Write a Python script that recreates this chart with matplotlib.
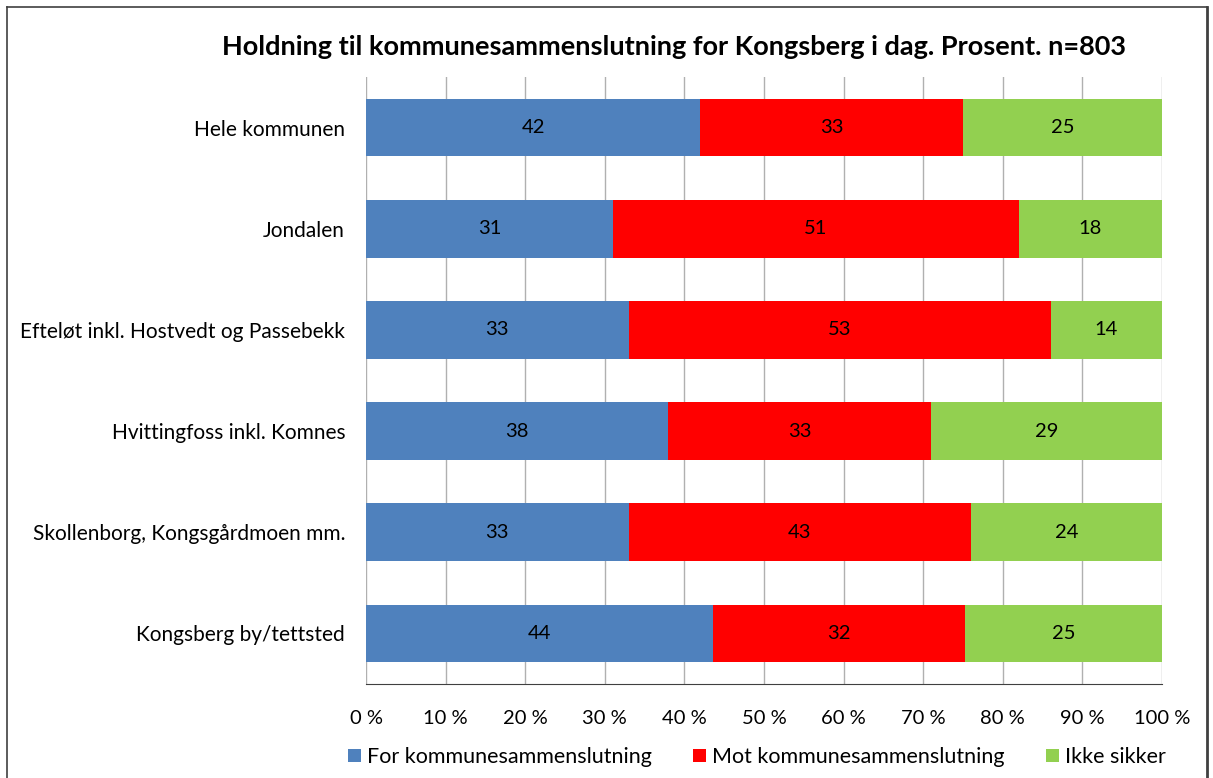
import matplotlib.pyplot as plt
from matplotlib.lines import Line2D
import numpy as np

plt.rcParams['font.family'] = ['Lato', 'DejaVu Sans']

categories = ["Hele kommunen", "Jondalen", "Efteløt inkl. Hostvedt og Passebekk",
              "Hvittingfoss inkl. Komnes", "Skollenborg, Kongsgårdmoen mm.",
              "Kongsberg by/tettsted"]
for_vals = [42, 31, 33, 38, 33, 44]
mot_vals = [33, 51, 53, 33, 43, 32]
ikke_vals = [25, 18, 14, 29, 24, 25]
series_names = ["For kommunesammenslutning", "Mot kommunesammenslutning", "Ikke sikker"]
colors = ["#4F81BD", "#FF0000", "#92D050"]

data = np.array([for_vals, mot_vals, ikke_vals], dtype=float)
share = data / data.sum(axis=0) * 100  # 100 % stacked

fig = plt.figure(figsize=(12.13, 7.78), dpi=100)
ax = fig.add_axes([366/1213, 1-684/778, 796/1213, (684-77)/778])

y = np.arange(len(categories))
left = np.zeros(len(categories))
for i in range(3):
    bars = ax.barh(y, share[i], left=left, height=0.57, color=colors[i],
                   label=series_names[i], zorder=3)
    for b, v in zip(bars, data[i]):
        ax.text(b.get_x() + b.get_width()/2, b.get_y() + b.get_height()/2,
                f"{v:.0f}", ha="center", va="center", fontsize=14.5, zorder=4)
    left += share[i]

ax.set_xlim(0, 100)
ax.set_ylim(len(categories) - 0.5, -0.5)
ax.set_yticks(y)
ax.set_yticklabels(categories, fontsize=15)
ax.set_xticks(np.arange(0, 101, 10))
ax.set_xticklabels([f"{t} %" for t in range(0, 101, 10)], fontsize=14.5)
ax.tick_params(axis="y", length=0, pad=15)
ax.tick_params(axis="x", length=0, pad=19)
ax.grid(axis="x", color="#B0B0B0", linewidth=1, zorder=0)
for s in ["top", "right", "left"]:
    ax.spines[s].set_visible(False)
ax.spines["bottom"].set_color("#404040")
ax.spines["bottom"].set_zorder(5)

fig.text(674/1213, 1-47/778, "Holdning til kommunesammenslutning for Kongsberg i dag. Prosent. n=803",
         ha="center", va="center", fontsize=19.5, fontweight="bold")

fig.legend(loc="center", bbox_to_anchor=(757/1213, 1-757/778), ncol=3, frameon=False,
           fontsize=15.5, handlelength=0.6, handleheight=0.6, handletextpad=0.3,
           columnspacing=1.9)

# chart border
fig.add_artist(Line2D([7/1213, 7/1213], [0, 1-7/778], color="#404040", lw=1.2))
fig.add_artist(Line2D([7/1213, 1207/1213], [1-7/778, 1-7/778], color="#404040", lw=1.2))
fig.add_artist(Line2D([1207/1213, 1207/1213], [0, 1-7/778], color="#404040", lw=2))

fig.savefig("out.png", dpi=100)
